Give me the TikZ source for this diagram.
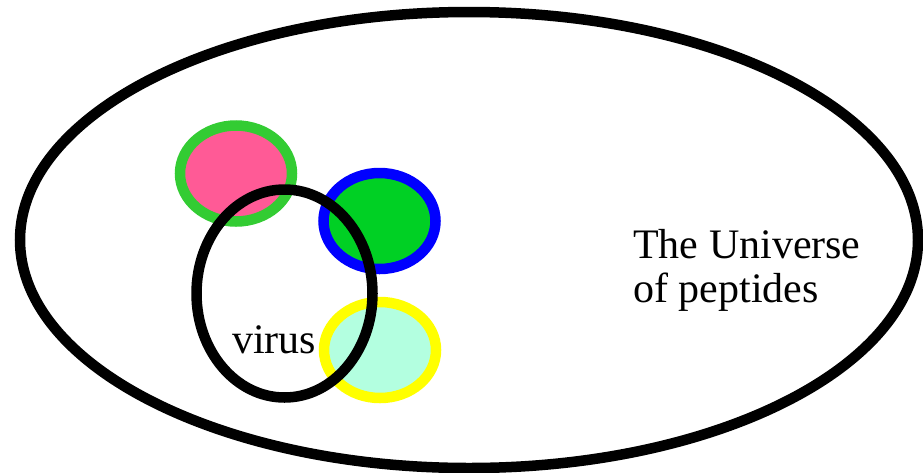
\documentclass[tikz,border=0pt]{standalone}
\usepackage{fontspec}
\setmainfont{Liberation Serif}
\definecolor{ringgreen}{HTML}{33CC33}
\definecolor{pinkfill}{HTML}{FF5A96}
\definecolor{ringblue}{HTML}{0000FF}
\definecolor{greenfill}{HTML}{00D024}
\definecolor{ringyellow}{HTML}{FFFF00}
\definecolor{mintfill}{HTML}{B3FFE0}
\begin{document}
\begin{tikzpicture}[x=1pt,y=-1pt,
  ring/.style={line width=10.5pt},
  lbl/.style={inner sep=0pt,anchor=base west,font=\fontsize{42}{44}\selectfont}]
\useasboundingbox (0,0) rectangle (923,472);
% universe
\draw[ring] (469,240) ellipse [x radius=449pt, y radius=228pt];
% peptide sets
\draw[ring,draw=ringgreen,fill=pinkfill] (236,173.5) ellipse [x radius=56pt, y radius=48pt];
\draw[ring,draw=ringblue,fill=greenfill] (379.5,221) ellipse [x radius=56pt, y radius=48pt];
\draw[ring,draw=ringyellow,fill=mintfill] (380,350) ellipse [x radius=56pt, y radius=48pt];
% virus
\draw[ring] (284.5,293.5) ellipse [x radius=88pt, y radius=104pt];
\node[lbl] (virus) at (232,353) {virus};
\node[lbl] (uni1) at (633,258) {The Universe};
\node[lbl] (uni2) at (633,302) {of peptides};
\end{tikzpicture}
\end{document}
